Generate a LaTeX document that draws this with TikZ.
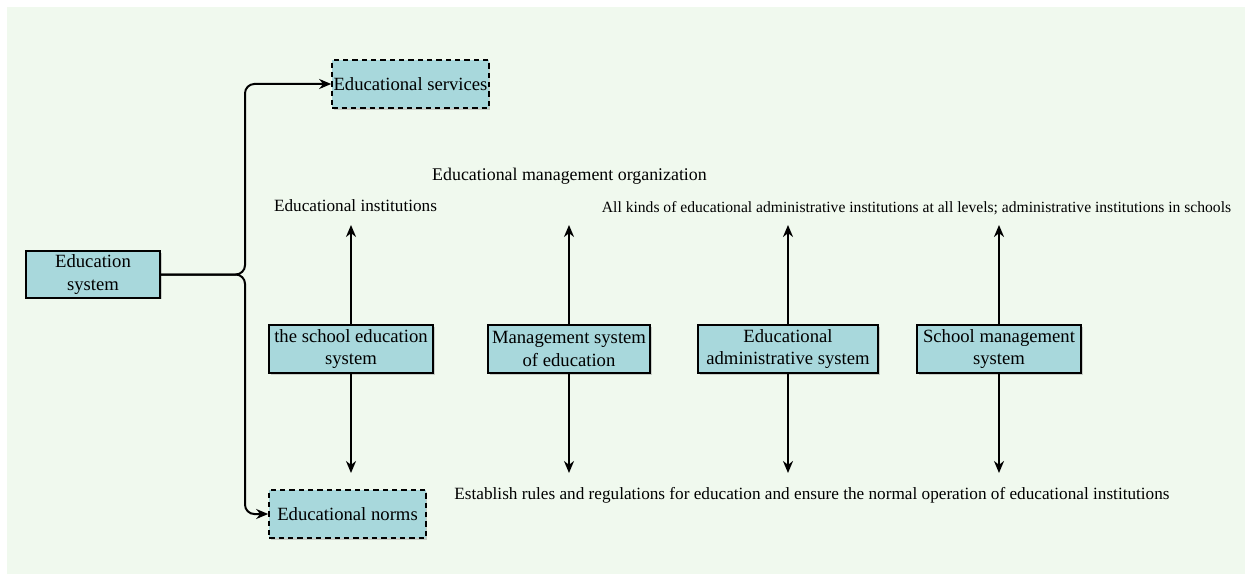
\documentclass[tikz,border=0pt]{standalone}
\usepackage{fontspec}
\setmainfont{Liberation Serif}
\usetikzlibrary{arrows.meta,shadows}
\definecolor{bggreen}{RGB}{240,249,238}
\definecolor{boxteal}{RGB}{168,216,220}
\tikzset{
  sysbox/.style={draw=black, line width=1.5pt, fill=boxteal, align=center, inner sep=0pt,
     font=\fontsize{14}{17}\selectfont,
     drop shadow={opacity=0.35, shadow xshift=1.2pt, shadow yshift=-1.2pt}},
  dashbox/.style={sysbox, dashed, dash pattern=on 4pt off 3pt},
  lbl/.style={inner sep=0pt},
  conn/.style={line width=1.5pt, -{Stealth[length=9pt,width=7.5pt]}},
}
\begin{document}
\begin{tikzpicture}[x=0.75pt,y=-0.75pt]
\useasboundingbox (0,0) rectangle (1245,574);
\fill[bggreen] (7,7) rectangle (1245,574);

\node[sysbox, minimum width=100.5pt, minimum height=35pt] (es) at (93,274.5) {Education\\system};
\node[dashbox, minimum width=117.5pt, minimum height=36pt] (serv) at (410.5,84) {Educational services};
\node[dashbox, minimum width=117.5pt, minimum height=36pt] (norms) at (347.5,514) {Educational norms};

\node[sysbox, minimum width=123pt, minimum height=36pt] (b1) at (351,349) {the school education\\system};
\node[sysbox, minimum width=121.5pt, minimum height=36pt] (b2) at (569,349) {Management system\\of education};
\node[sysbox, minimum width=135pt, minimum height=36pt] (b3) at (788,349) {Educational\\administrative system};
\node[sysbox, minimum width=123pt, minimum height=36pt] (b4) at (999,349) {School management\\system};

\node[lbl, font=\fontsize{13.4}{16}\selectfont] (orgl) at (569.5,176) {Educational management organization};
\node[lbl, font=\fontsize{12.9}{15}\selectfont] (inst) at (355.5,206) {Educational institutions};
\node[lbl, font=\fontsize{11.7}{14}\selectfont] (allk) at (916.5,208) {All kinds of educational administrative institutions at all levels; administrative institutions in schools};
\node[lbl, font=\fontsize{12.9}{15}\selectfont] (rules) at (812,495) {Establish rules and regulations for education and ensure the normal operation of educational institutions};

\coordinate (j) at (245,274.5);
\draw[conn, rounded corners=7pt] (es.east) -- (j) |- (serv.west);
\draw[conn, rounded corners=7pt] (es.east) -- (j) |- (norms.west);

\foreach \b/\x in {b1/351,b2/569,b3/788,b4/999}{
  \coordinate (\b up) at (\x,225);
  \coordinate (\b dn) at (\x,473);
  \draw[conn] (\b.north) -- (\b up);
  \draw[conn] (\b.south) -- (\b dn);
}
\end{tikzpicture}
\end{document}
